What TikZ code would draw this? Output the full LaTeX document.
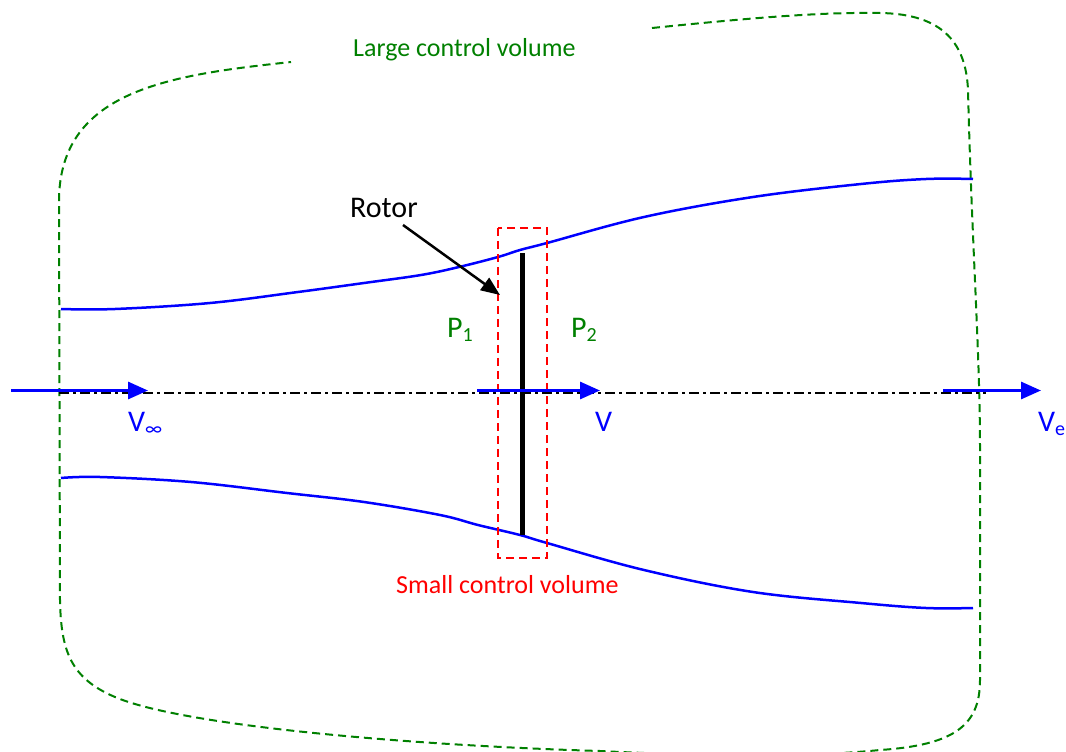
\documentclass[tikz,border=0pt]{standalone}
\usepackage{fontspec}
\setmainfont{Carlito}
\usetikzlibrary{arrows.meta}
\definecolor{cvgreen}{RGB}{0,128,0}
\definecolor{flowblue}{RGB}{0,0,255}
\definecolor{cvred}{RGB}{255,0,0}
\newcommand\lblsub[1]{\raisebox{-0.16em}{\fontsize{20}{20}\selectfont #1}}
\tikzset{
  bigcv/.style={draw=cvgreen, line width=2pt, dash pattern=on 8pt off 5pt},
  smallcv/.style={draw=cvred, line width=2pt, dash pattern=on 8pt off 5pt},
  stream/.style={draw=flowblue, line width=2.5pt},
  axisline/.style={draw=black, line width=1.6pt, dash pattern=on 10pt off 4pt on 3pt off 4pt},
  flowarrow/.style={draw=flowblue, line width=3pt, -{Triangle[length=20pt,width=17pt]}},
  bladeline/.style={draw=black, line width=5pt},
  pointer/.style={draw=black, line width=2.5pt, -{Triangle[length=19pt,width=15pt]}},
  cvlabel/.style={inner sep=0pt, anchor=base west, font=\fontsize{26}{30}\selectfont},
  biglabel/.style={inner sep=0pt, anchor=base west, font=\fontsize{30}{36}\selectfont},
}
\begin{document}
\begin{tikzpicture}[x=1pt, y=-1pt]
\useasboundingbox (0,0) rectangle (1066,752);
\clip (0,0) rectangle (1066,752);
\fill[white] (0,0) rectangle (1066,752);

% large control volume
\draw[bigcv] (652,28) .. controls (750,18) and (820,12) .. (880,13)
  .. controls (945,14) and (966,45) .. (968,90)
  .. controls (972,250) and (980,350) .. (980,450)
  -- (980,680)
  .. controls (980,725) and (955,745) .. (880,750)
  .. controls (800,758) and (700,756) .. (600,751)
  .. controls (400,745) and (180,725) .. (115,697)
  .. controls (70,678) and (61,650) .. (60,600)
  -- (59,200)
  .. controls (60,90) and (170,75) .. (291,62);

% streamlines
\draw[stream] plot[smooth, tension=0.6] coordinates {(61,309) (115,309) (210,303) (298,292) (364,283) (421,275) (459,267) (498,257) (520,250) (547,243) (644,217) (753,197) (861,184) (926,179) (973,179)};
\draw[stream] plot[smooth, tension=0.6] coordinates {(61,478) (100,477) (191,482) (287,493) (364,502) (440,515) (478,525) (520,535) (547,543) (644,570) (753,592) (861,603) (926,608) (973,608)};

% axis
\coordinate (axL) at (59,393);
\coordinate (axR) at (986,393);
\draw[axisline] (axL) -- (axR);

% small control volume
\draw[smallcv] (498,228) rectangle (547,558);

% rotor
\coordinate (rtop) at (522,253);
\coordinate (rbot) at (522,535);
\draw[bladeline] (rtop) -- (rbot);

% flow arrows
\coordinate (a1s) at (11,390.5);  \coordinate (a1e) at (148,390.5);
\coordinate (a2s) at (477,390.5); \coordinate (a2e) at (600,390.5);
\coordinate (a3s) at (943,390.5); \coordinate (a3e) at (1041,390.5);
\draw[flowarrow] (a1s) -- (a1e);
\draw[flowarrow] (a2s) -- (a2e);
\draw[flowarrow] (a3s) -- (a3e);

% labels
\node[cvlabel, text=cvgreen] (lcv) at (353,57) {Large control volume};
\node[cvlabel, text=cvred] (scv) at (396,593) {Small control volume};
\node[biglabel] (rotor) at (350,217) {Rotor};
\node[biglabel, text=cvgreen] (p1) at (447,337) {P\lblsub{1}};
\node[biglabel, text=cvgreen] (p2) at (571,337) {P\lblsub{2}};
\node[biglabel, text=flowblue] (vinf) at (128,431) {V\lblsub{∞}};
\node[biglabel, text=flowblue] (vmid) at (595,431) {V};
\node[biglabel, text=flowblue] (vexit) at (1038,431) {V\lblsub{e}};

% rotor pointer
\coordinate (ptail) at (403,225);
\coordinate (ptip) at (500,295);
\draw[pointer] (ptail) -- (ptip);
\end{tikzpicture}
\end{document}
